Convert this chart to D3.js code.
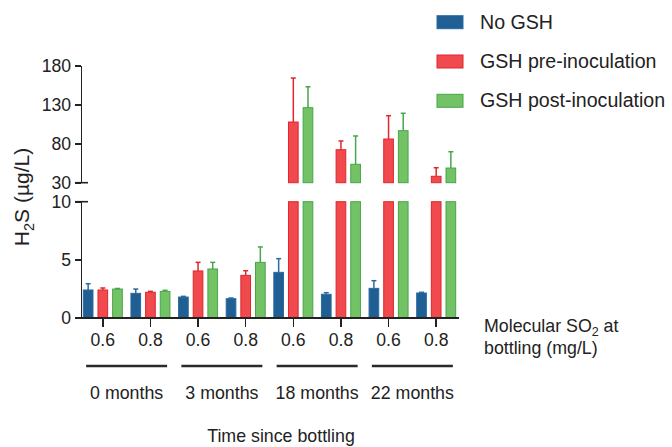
<html lang='en'>
<head>
<meta content='text/html; charset=utf-8' http-equiv='Content-Type'>
<title>H2S since bottling</title>
<script src="https://d3js.org/d3.v7.min.js"></script>
<style>
  body { margin: 0; background: #fff; }
  svg { font-family: "Liberation Sans", Arial, sans-serif; }
  .axis path, .axis line { stroke: #222; stroke-width: 1.6px; shape-rendering: crispEdges; }
  .axis text { font-size: 17.6px; fill: #222; }
  .lbl { fill: #222; }
</style>
</head>
<body>
<script>
// data
var times = ["0 months", "3 months", "18 months", "22 months"];
var so2 = ["0.6", "0.8"];
var series = ["No GSH", "GSH pre-inoculation", "GSH post-inoculation"];
var noGSH     = [2.39, 2.10, 1.78, 1.64, 3.91, 2.02, 2.53, 2.13];
var noGSHErr  = [0.54, 0.37, 0.06, 0.06, 1.18, 0.14, 0.66, 0.06];
var preGSH    = [2.39, 2.19, 4.03, 3.65, 107.8, 72.3, 86.0, 38.2];
var preGSHErr = [0.17, 0.08, 0.74, 0.40, 56.4, 11.2, 29.9, 11.0];
var postGSH   = [2.47, 2.27, 4.20, 4.77, 126.2, 53.6, 96.7, 48.8];
var postGSHErr= [0.05, 0.09, 0.57, 1.33, 26.8, 36.3, 22.3, 20.9];
var lowTicks = [0, 5, 10];
var highTicks = [30, 80, 130, 180];

var fills = ["#1f5f94", "#f04a4e", "#74c266"];
var strokes = ["#2c6a9e", "#e0262c", "#45a64a"];

var W = 672, H = 447;
var svg = d3.select("body").append("svg").attr("width", W).attr("height", H);

// one slot per (time, so2) pair
var cats = [];
times.forEach(function(t, i) { so2.forEach(function(s, j) { cats.push(i * 2 + j); }); });

var x = d3.scaleBand().domain(cats).range([79, 460]);
var sub = d3.scaleBand().domain([0, 1, 2]).range([-19.5, 19.5]).paddingInner(0.34);
var yLow = d3.scaleLinear().domain([0, 10]).range([317.7, 201.7]);
var yHigh = d3.scaleLinear().domain([30, 180]).range([182.7, 65.7]);
var axisX = 81;

var rows = [];
[[noGSH, noGSHErr], [preGSH, preGSHErr], [postGSH, postGSHErr]].forEach(function(p, s) {
  p[0].forEach(function(v, i) { rows.push({ s: s, i: i, v: v, e: p[1][i] }); });
});

function bx(d) { return x(d.i) + x.bandwidth() / 2 + sub(d.s); }
function cx(d) { return bx(d) + sub.bandwidth() / 2; }

// lower segment bars (clipped at 10)
svg.append("g").selectAll("rect").data(rows).join("rect")
  .attr("x", bx)
  .attr("width", sub.bandwidth())
  .attr("y", function(d) { return yLow(Math.min(d.v, 10)); })
  .attr("height", function(d) { return yLow(0) - yLow(Math.min(d.v, 10)); })
  .attr("fill", function(d) { return fills[d.s]; })
  .attr("stroke", function(d) { return strokes[d.s]; })
  .attr("stroke-width", 1);

// upper segment bars
var tall = rows.filter(function(d) { return d.v > 30; });
svg.append("g").selectAll("rect").data(tall).join("rect")
  .attr("x", bx)
  .attr("width", sub.bandwidth())
  .attr("y", function(d) { return yHigh(d.v); })
  .attr("height", function(d) { return yHigh(30) - yHigh(d.v); })
  .attr("fill", function(d) { return fills[d.s]; })
  .attr("stroke", function(d) { return strokes[d.s]; })
  .attr("stroke-width", 1);

// error bars (upper only)
function ys(v) { return v > 30 ? yHigh(v) : yLow(v); }
var eb = svg.append("g").selectAll("g").data(rows).join("g")
  .attr("stroke", function(d) { return strokes[d.s]; })
  .attr("stroke-width", 1.5);
eb.append("line")
  .attr("x1", cx).attr("x2", cx)
  .attr("y1", function(d) { return ys(d.v); })
  .attr("y2", function(d) { return ys(d.v + d.e); });
eb.append("line")
  .attr("x1", function(d) { return cx(d) - 2.5; })
  .attr("x2", function(d) { return cx(d) + 2.5; })
  .attr("y1", function(d) { return ys(d.v + d.e); })
  .attr("y2", function(d) { return ys(d.v + d.e); });

// axes
svg.append("g").attr("class", "axis")
  .attr("transform", "translate(" + axisX + ",0)")
  .call(d3.axisLeft(yLow).tickValues(lowTicks).tickSize(6).tickPadding(4).tickSizeOuter(0))
  .selectAll("text").attr("font-size", 18.2);
svg.append("g").attr("class", "axis")
  .attr("transform", "translate(" + axisX + ",0)")
  .call(d3.axisLeft(yHigh).tickValues(highTicks).tickSize(6).tickPadding(4).tickSizeOuter(0))
  .selectAll("text").attr("font-size", 18.2);
d3.selectAll(".axis text").style("font-size", null);

// break marks
svg.append("g").selectAll("line").data([yHigh(30), yLow(10)]).join("line")
  .attr("x1", axisX - 6).attr("x2", axisX + 7)
  .attr("y1", function(d) { return d; }).attr("y2", function(d) { return d; })
  .attr("stroke", "#222").attr("stroke-width", 1.6);

var xa = svg.append("g").attr("class", "axis")
  .attr("transform", "translate(0," + yLow(0) + ")")
  .call(d3.axisBottom(x).tickSize(9).tickPadding(7).tickSizeOuter(0)
    .tickFormat(function(d) { return so2[d % 2]; }));
xa.select(".domain").attr("d", "M" + axisX + ",0H459");

// time groups
var grp = svg.append("g");
times.forEach(function(t, i) {
  var c = (x(i * 2) + x(i * 2 + 1) + x.bandwidth()) / 2;
  grp.append("line").attr("x1", c - 40.5).attr("x2", c + 40.5)
    .attr("y1", 366).attr("y2", 366)
    .attr("stroke", "#2a2a2a").attr("stroke-width", 2.5);
  grp.append("text").attr("class", "lbl").attr("x", c).attr("y", 399)
    .attr("text-anchor", "middle").attr("font-size", 17.8).text(t);
});

svg.append("text").attr("class", "lbl").attr("x", 281).attr("y", 442)
  .attr("text-anchor", "middle").attr("font-size", 17.8).text("Time since bottling");

var so2t = svg.append("text").attr("class", "lbl").attr("x", 484).attr("y", 331.7).attr("font-size", 17.8);
so2t.append("tspan").text("Molecular SO");
so2t.append("tspan").attr("font-size", 12.5).attr("dy", 4).text("2");
so2t.append("tspan").attr("dy", -4).text(" at");
svg.append("text").attr("class", "lbl").attr("x", 484).attr("y", 353.5).attr("font-size", 17.8)
  .text("bottling (mg/L)");

// y title
var yt = svg.append("text").attr("class", "lbl").attr("font-size", 21)
  .attr("text-anchor", "middle")
  .attr("transform", "translate(29,197) rotate(-90)");
yt.append("tspan").text("H");
yt.append("tspan").attr("font-size", 14.5).attr("dy", 5).text("2");
yt.append("tspan").attr("dy", -5).text("S (µg/L)");

// legend
var lg = svg.append("g").selectAll("g").data(series).join("g")
  .attr("transform", function(d, i) { return "translate(437," + (15.7 + i * 39.3) + ")"; });
lg.append("rect").attr("width", 26).attr("height", 13)
  .attr("fill", function(d, i) { return fills[i]; })
  .attr("stroke", function(d, i) { return strokes[i]; });
lg.append("text").attr("class", "lbl").attr("x", 43).attr("y", 13)
  .attr("font-size", 19.6).text(function(d) { return d; });
</script>
</body>
</html>
